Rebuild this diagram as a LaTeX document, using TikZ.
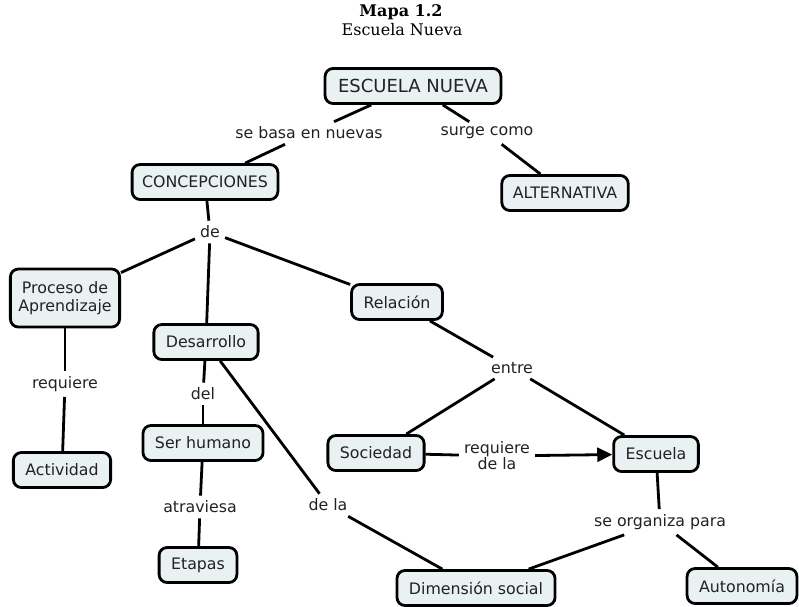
\documentclass[tikz,border=0pt]{standalone}
\usepackage{fontspec}
\setmainfont{DejaVu Serif}
\newfontfamily\mapfont{DejaVu Sans}
\usetikzlibrary{arrows.meta}
\definecolor{boxfill}{HTML}{E9F1F3}
\definecolor{ink}{HTML}{222222}
\tikzset{
  concept/.style={draw=black, line width=2.8pt, rounded corners=8pt, fill=boxfill,
    font=\mapfont\fontsize{15.8}{18.5}\selectfont, text=ink, inner xsep=12pt,
    minimum height=35pt, align=center},
  linkword/.style={font=\mapfont\fontsize{15.8}{16}\selectfont, text=ink, inner sep=5pt, align=center},
  link/.style={line width=2.8pt, draw=black},
}
\begin{document}
\begin{tikzpicture}[x=1pt,y=-1pt]
\useasboundingbox (0,0) rectangle (799,606);
% title
\node (t1) at (401,12) {\fontsize{16}{18}\selectfont\bfseries Mapa 1.2};
\node (t2) at (402,30) {\fontsize{16}{18}\selectfont Escuela Nueva};

% concepts
\node[concept, font=\mapfont\fontsize{18}{20}\selectfont, inner xsep=13pt] (en) at (413,86) {ESCUELA NUEVA};
\node[concept, inner xsep=10pt] (conc) at (205,182) {CONCEPCIONES};
\node[concept, inner xsep=11pt] (alt) at (565,193) {ALTERNATIVA};
\node[concept, minimum height=58pt, inner xsep=8pt] (proc) at (65,298) {Proceso de\\Aprendizaje};
\node[concept] (rel) at (397,302) {Relación};
\node[concept] (des) at (206,342) {Desarrollo};
\node[concept] (soc) at (376,453) {Sociedad};
\node[concept] (esc) at (656,454) {Escuela};
\node[concept] (act) at (62,470) {Actividad};
\node[concept] (ser) at (203,443) {Ser humano};
\node[concept] (eta) at (198,565) {Etapas};
\node[concept] (dim) at (476,588) {Dimensión social};
\node[concept] (aut) at (742,586) {Autonomía};

% linking phrases
\node[linkword] (l1) at (309,133) {se basa en nuevas};
\node[linkword] (l2) at (487,133) {surge como};
\node[linkword] (l3) at (210,232) {de};
\node[linkword] (l4) at (512,368) {entre};
\node[linkword] (l5) at (65,384) {requiere};
\node[linkword] (l6) at (203,394) {del};
\node[linkword] (l7) at (497,456) {requiere\\de la};
\node[linkword] (l8) at (200,507) {atraviesa};
\node[linkword] (l9) at (328,505) {de la};
\node[linkword] (l10) at (660,522) {se organiza para};

% connectors
\draw[link] (en) -- (l1);
\draw[link] (l1) -- (conc);
\draw[link] (en) -- (l2);
\draw[link] (l2) -- (alt);
\draw[link] (conc) -- (l3);
\draw[link] (l3) -- (proc);
\draw[link] (l3) -- (des);
\draw[link] (l3) -- (rel);
\draw[link] (proc) -- (l5);
\draw[link] (l5) -- (act);
\draw[link] (des) -- (l6);
\draw[link] (l6) -- (ser);
\draw[link] (ser) -- (l8);
\draw[link] (l8) -- (eta);
\draw[link] (des) -- (l9);
\draw[link] (l9) -- (dim);
\draw[link] (rel) -- (l4);
\draw[link] (l4) -- (soc);
\draw[link] (l4) -- (esc);
\draw[link] (soc) -- (l7);
\draw[link, -{Triangle[length=15pt,width=14pt]}] (l7) -- (esc);
\draw[link] (esc) -- (l10);
\draw[link] (l10) -- (dim);
\draw[link] (l10) -- (aut);
\end{tikzpicture}
\end{document}
